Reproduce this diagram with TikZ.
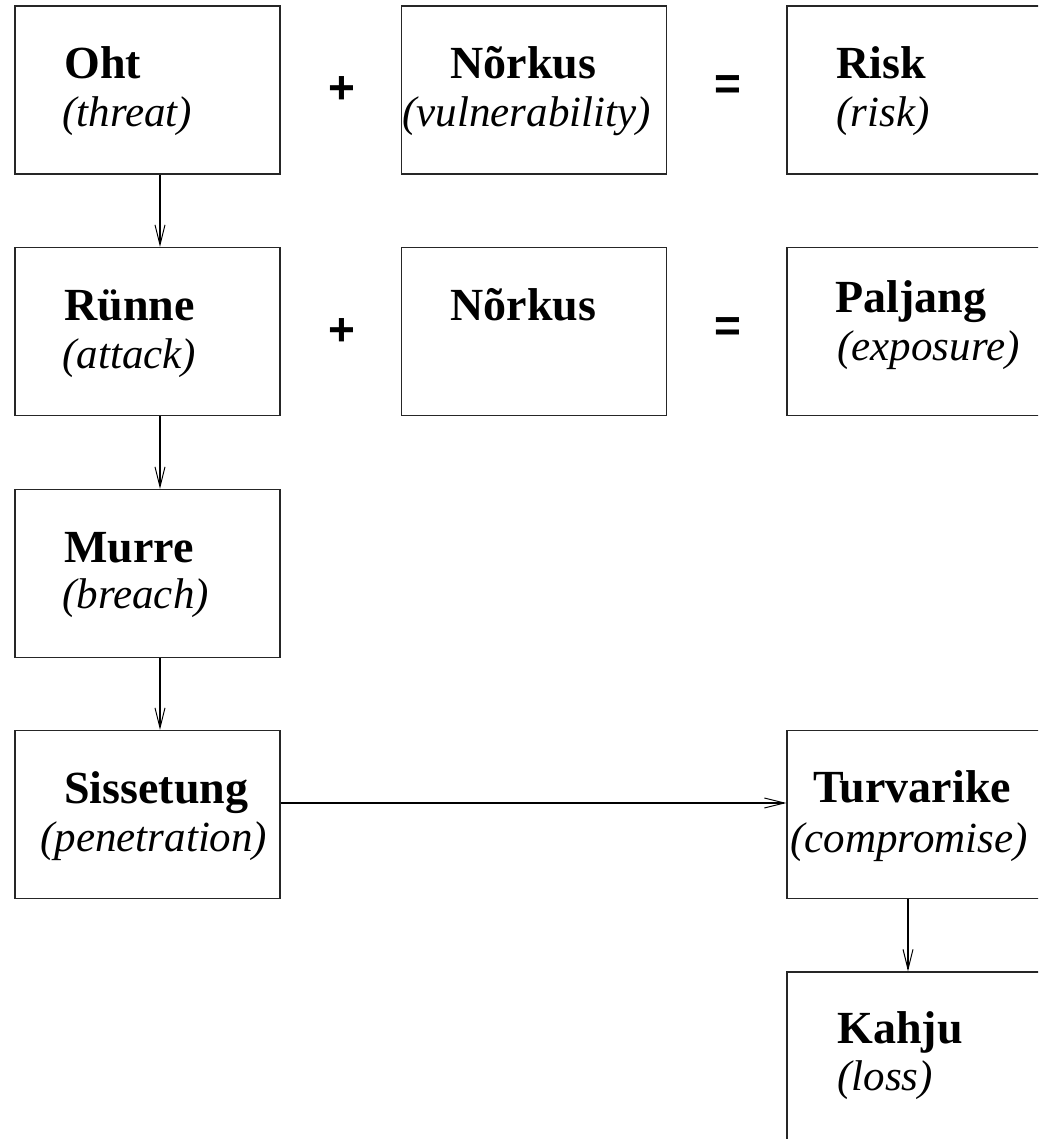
\documentclass[tikz,border=0pt]{standalone}
\usepackage{fontspec}
\setmainfont{Liberation Serif}
\newfontfamily\signfont{Liberation Sans}
\usepackage{tikz}
\usetikzlibrary{arrows.meta}

\begin{document}
\begin{tikzpicture}[
  x=0.5pt, y=-0.5pt,
  box/.style={rectangle, draw=black!85, line width=0.6pt, fill=none,
             minimum width=132.5pt, minimum height=84pt, inner sep=0pt},
  termtext/.style={anchor=base west, inner sep=0pt,
             font=\fontsize{23}{27}\selectfont\bfseries},
  engtext/.style={anchor=base west, inner sep=0pt,
             font=\fontsize{21.5}{26}\selectfont\itshape},
  sign/.style={inner sep=0pt, font=\fontsize{23}{27}\selectfont\signfont\bfseries},
  arrow/.style={-{Straight Barb[length=10pt, width=5pt, line width=0.5pt]},
             line width=0.55pt, color=black}
]
\clip (0,0) rectangle (1038,1139);

% boxes
\node[box] (oht)     at (147.5,90)    {};
\node[box] (norkusA) at (534,90)      {};
\node[box] (risk)    at (919.5,90)    {};
\node[box] (rynne)   at (147.5,331.5) {};
\node[box] (norkusB) at (534,331.5)   {};
\node[box] (paljang) at (919.5,331.5) {};
\node[box] (murre)   at (147.5,573.5) {};
\node[box] (siss)    at (147.5,814.5) {};
\node[box] (turv)    at (919.5,814.5) {};
\node[box] (kahju)   at (919.5,1056)  {};

% texts
\node[termtext] (oht-t)     at (64,79)    {Oht};
\node[engtext]  (oht-e)     at (62,127)   {(threat)};
\node[termtext] (norkusA-t) at (450,79)   {Nõrkus};
\node[engtext]  (norkusA-e) at (402,127)  {(vulnerability)};
\node[termtext] (risk-t)    at (836,79)   {Risk};
\node[engtext]  (risk-e)    at (836,127)  {(risk)};
\node[termtext] (rynne-t)   at (64,320)   {Rünne};
\node[engtext]  (rynne-e)   at (62,368)   {(attack)};
\node[termtext] (norkusB-t) at (450,320)  {Nõrkus};
\node[termtext] (paljang-t) at (835,312)  {Paljang};
\node[engtext]  (paljang-e) at (837,360)  {(exposure)};
\node[termtext] (murre-t)   at (64,562)   {Murre};
\node[engtext]  (murre-e)   at (62,608)   {(breach)};
\node[termtext] (siss-t)    at (64,803)   {Sissetung};
\node[engtext]  (siss-e)    at (40,851)   {(penetration)};
\node[termtext] (turv-t)    at (813,802)  {Turvarike};
\node[engtext]  (turv-e)    at (790,852)  {(compromise)};
\node[termtext] (kahju-t)   at (837,1043) {Kahju};
\node[engtext]  (kahju-e)   at (837,1090) {(loss)};

% plus / equals
\node[sign] (plusA)  at (342,90)  {+};
\node[sign] (eqA)    at (728,88)  {=};
\node[sign] (plusB)  at (342,332) {+};
\node[sign] (eqB)    at (728,330) {=};

% arrows
\draw[arrow] ([xshift=6.25pt]oht.south) -- ([xshift=6.25pt]rynne.north);
\draw[arrow] ([xshift=6.25pt]rynne.south) -- ([xshift=6.25pt]murre.north);
\draw[arrow] ([xshift=6.25pt]murre.south) -- ([xshift=6.25pt]siss.north);
\draw[arrow] ([yshift=5.75pt]siss.east) -- ([yshift=5.75pt]turv.west);
\draw[arrow] ([xshift=-5.75pt]turv.south) -- ([xshift=-5.75pt]kahju.north);

\end{tikzpicture}
\end{document}
